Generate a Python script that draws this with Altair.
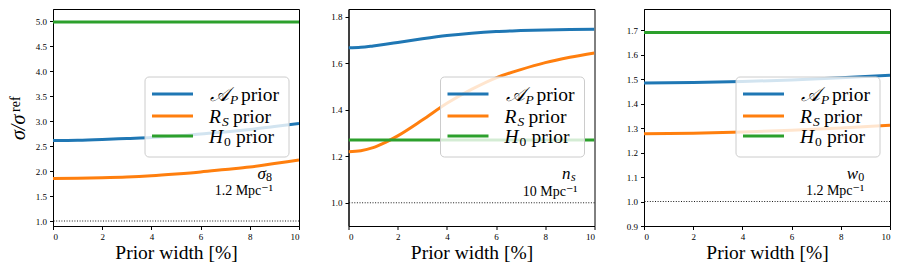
import altair as alt
import pandas as pd

FONT = "'Liberation Serif', 'Times New Roman', Times, 'DejaVu Serif', serif"
SERIES = ["AP", "RS", "H0"]
COLORS = ["#1f77b4", "#ff7f0e", "#2ca02c"]

# ---------- data ----------
# panel 1 : sigma_8
p1_x = [0, 1, 2, 3, 4, 5, 6, 7, 8, 9, 10]
p1_ap = [2.61, 2.615, 2.63, 2.65, 2.67, 2.70, 2.74, 2.78, 2.83, 2.89, 2.95]
p1_rs = [1.85, 1.855, 1.865, 1.88, 1.905, 1.94, 1.98, 2.03, 2.08, 2.15, 2.22]
p1_h0 = [4.98] * 11
p1_ticks = [1.0, 1.5, 2.0, 2.5, 3.0, 3.5, 4.0, 4.5, 5.0]
p1_domain = [0.9, 5.24]

# panel 2 : n_s
p2_x = [0, 0.5, 1, 1.5, 2, 3, 4, 5, 6, 7, 8, 9, 10]
p2_ap = [1.667, 1.669, 1.675, 1.682, 1.690, 1.706, 1.720, 1.730, 1.737, 1.741, 1.744, 1.746, 1.747]
p2_rs = [1.220, 1.224, 1.237, 1.260, 1.288, 1.356, 1.428, 1.488, 1.538, 1.573, 1.603, 1.626, 1.645]
p2_h0 = [1.27] * 13
p2_ticks = [1.0, 1.2, 1.4, 1.6, 1.8]
p2_domain = [0.9, 1.834]

# panel 3 : w_0
p3_x = [0, 2, 4, 6, 8, 10]
p3_ap = [1.484, 1.486, 1.490, 1.496, 1.505, 1.516]
p3_rs = [1.277, 1.279, 1.284, 1.291, 1.300, 1.311]
p3_h0 = [1.69] * 6
p3_ticks = [0.9, 1.0, 1.1, 1.2, 1.3, 1.4, 1.5, 1.6, 1.7]
p3_domain = [0.9, 1.786]

x_ticks = [0, 2, 4, 6, 8, 10]
ref_level = [1.0]

# annotation (parameter symbol + scale), data coordinates of right edge / baseline
ann_sym = [("σ", "8"), ("n", "s"), ("w", "0")]
ann_scale = ["1.2 Mpc⁻¹", "10 Mpc⁻¹", "1.2 Mpc⁻¹"]
ann_sym_pos = [(8.9, 1.84), (9.23, 1.104), (8.95, 1.092)]
ann_scale_pos = [(8.94, 1.52), (9.31, 1.031), (8.95, 1.027)]

legend_main = ["𝒜", "R", "H"]
legend_sub = ["P", "S", "0"]
legend_rest = "prior"


def panel(i, xs, ap, rs, h0, domain, ticks, first):
    df = pd.DataFrame({
        "x": xs * 3,
        "y": ap + rs + h0,
        "s": [SERIES[0]] * len(xs) + [SERIES[1]] * len(xs) + [SERIES[2]] * len(xs),
        "o": [0] * len(xs) + [1] * len(xs) + [2] * len(xs),
    })
    xsc = alt.Scale(domain=[0, 10], nice=False)
    ysc = alt.Scale(domain=domain, nice=False, zero=False)
    xax = alt.Axis(values=x_ticks, title="Prior width [%]", format="d", labelOverlap=False)
    yax = alt.Axis(values=ticks, format=".1f", title=None, labelOverlap=False)

    lines = alt.Chart(df).mark_line(strokeWidth=3, interpolate="monotone", clip=True).encode(
        x=alt.X("x:Q", scale=xsc, axis=xax),
        y=alt.Y("y:Q", scale=ysc, axis=yax),
        color=alt.Color("s:N", scale=alt.Scale(domain=SERIES, range=COLORS), legend=None),
        order="o:Q",
    )
    ref = alt.Chart(pd.DataFrame({"r": ref_level})).mark_rule(
        color="black", strokeWidth=0.9, strokeDash=[1, 1.6]
    ).encode(y=alt.Y("r:Q", scale=ysc, axis=yax))

    sx, sy = ann_sym_pos[i]
    cx, cy = ann_scale_pos[i]
    adf = pd.DataFrame({"sx": [sx], "sy": [sy], "cx": [cx], "cy": [cy],
                        "m": [ann_sym[i][0]], "sub": [ann_sym[i][1]], "sc": [ann_scale[i]]})
    subw = 6 if ann_sym[i][1] in "08" else 5
    sym_main = alt.Chart(adf).mark_text(font=FONT, fontSize=17, fontStyle="italic", align="right",
                                        baseline="alphabetic", dx=-subw, color="black").encode(
        x=alt.X("sx:Q", scale=xsc, axis=xax), y=alt.Y("sy:Q", scale=ysc, axis=yax), text="m:N")
    sub_italic = "italic" if ann_sym[i][1] == "s" else "normal"
    sym_sub = alt.Chart(adf).mark_text(font=FONT, fontSize=12, fontStyle=sub_italic, align="right",
                                       baseline="alphabetic", dy=2, color="black").encode(
        x=alt.X("sx:Q", scale=xsc, axis=xax), y=alt.Y("sy:Q", scale=ysc, axis=yax), text="sub:N")
    scale_txt = alt.Chart(adf).mark_text(font=FONT, fontSize=14, align="right",
                                         baseline="alphabetic", color="black").encode(
        x=alt.X("cx:Q", scale=xsc, axis=xax), y=alt.Y("cy:Q", scale=ysc, axis=yax), text="sc:N")

    layers = [lines, ref, sym_main, sym_sub, scale_txt]

    # legend (drawn as decoration)
    one = pd.DataFrame({"k": [0]})
    box = alt.Chart(one).mark_rect(fill="white", fillOpacity=0.8, stroke="#cccccc",
                                   strokeWidth=1, cornerRadius=4).encode(
        x=alt.value(92), x2=alt.value(236), y=alt.value(68), y2=alt.value(148))
    layers.append(box)
    row_y = [85, 107, 127]
    main_x = [157, 156, 156]
    sub_x = [177, 169, 171]
    rest_x = [188, 180, 183]
    for r in range(3):
        ly = row_y[r]
        layers.append(alt.Chart(one).mark_rule(color=COLORS[r], strokeWidth=3).encode(
            x=alt.value(99), x2=alt.value(140), y=alt.value(ly)))
        layers.append(alt.Chart(one).mark_text(font=FONT, fontSize=20 if r == 0 else 19.5,
                                               fontStyle="italic",
                                               align="left", baseline="alphabetic", color="black",
                                               text=legend_main[r]).encode(
            x=alt.value(main_x[r]), y=alt.value(ly + 7)))
        layers.append(alt.Chart(one).mark_text(font=FONT, fontSize=13.5,
                                               fontStyle="normal" if legend_sub[r] == "0" else "italic",
                                               align="left", baseline="alphabetic", color="black",
                                               text=legend_sub[r]).encode(
            x=alt.value(sub_x[r]), y=alt.value(ly + 10)))
        layers.append(alt.Chart(one).mark_text(font=FONT, fontSize=19.5, align="left",
                                               baseline="alphabetic", color="black",
                                               text=legend_rest).encode(
            x=alt.value(rest_x[r]), y=alt.value(ly + 7)))

    if first:
        layers.append(alt.Chart(one).mark_text(font=FONT, fontSize=20, fontStyle="italic", angle=270,
                                               align="left", baseline="alphabetic", color="black",
                                               text="σ/σ").encode(
            x=alt.value(-28), y=alt.value(131)))
        layers.append(alt.Chart(one).mark_text(font=FONT, fontSize=14, angle=270,
                                               align="left", baseline="alphabetic", color="black",
                                               text="ref").encode(
            x=alt.value(-33), y=alt.value(103)))

    return alt.layer(*layers).properties(width=246, height=217)


c1 = panel(0, p1_x, p1_ap, p1_rs, p1_h0, p1_domain, p1_ticks, True)
c2 = panel(1, p2_x, p2_ap, p2_rs, p2_h0, p2_domain, p2_ticks, False)
c3 = panel(2, p3_x, p3_ap, p3_rs, p3_h0, p3_domain, p3_ticks, False)

chart = alt.hconcat(c1, c2, c3, spacing=49.5, bounds="flush",
                    padding={"left": 0, "top": 0, "right": 0, "bottom": 0}).configure_view(
    stroke="black", strokeWidth=1
).configure_axis(
    grid=False, labelFont=FONT, labelFontSize=9, labelColor="black", tickColor="black",
    tickSize=3.5, labelPadding=3, domainColor="black", domainWidth=1,
    titleFont=FONT, titleFontSize=19.5, titleFontWeight="normal", titleColor="black", titlePadding=2
)

chart.save("out.html", embed_options={"renderer": "svg", "actions": False})
